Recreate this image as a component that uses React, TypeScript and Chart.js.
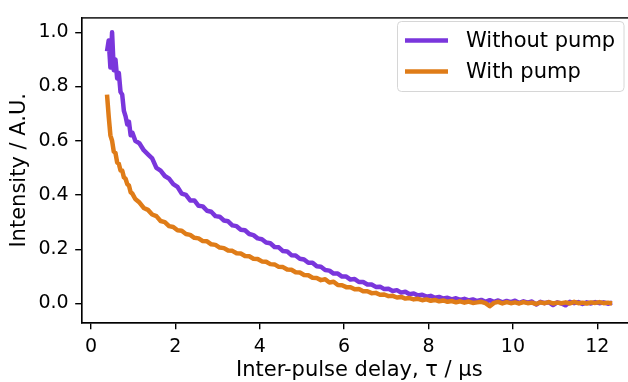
import { useEffect, useRef } from "react";
import { Chart, registerables } from "chart.js";

Chart.register(...registerables);

const CANVAS_W = 660;
const CANVAS_H = 382;
const FONT = "'DejaVu Sans', sans-serif";

const seriesLabels = ["Without pump", "With pump"];
const seriesColors = ["#7a36dc", "#df7c18"];

const xTicks = [0, 2, 4, 6, 8, 10, 12];
const yTicks = [0, 0.2, 0.4, 0.6, 0.8, 1.0];

const delays = [
  0.38, 0.42, 0.46, 0.5, 0.54, 0.58, 0.62, 0.66, 0.7, 0.74, 0.78, 0.82, 0.86, 0.9, 0.94, 0.98,
  1.05, 1.15, 1.25, 1.35, 1.45, 1.55, 1.65, 1.75, 1.85, 1.95,
  2.05, 2.15, 2.25, 2.35, 2.45, 2.55, 2.65, 2.75, 2.85, 2.95,
  3.05, 3.15, 3.25, 3.35, 3.45, 3.55, 3.65, 3.75, 3.85, 3.95,
  4.05, 4.15, 4.25, 4.35, 4.45, 4.55, 4.65, 4.75, 4.85, 4.95,
  5.05, 5.15, 5.25, 5.35, 5.45, 5.55, 5.65, 5.75, 5.85, 5.95,
  6.05, 6.15, 6.25, 6.35, 6.45, 6.55, 6.65, 6.75, 6.85, 6.95,
  7.05, 7.15, 7.25, 7.35, 7.45, 7.55, 7.65, 7.75, 7.85, 7.95,
  8.05, 8.15, 8.25, 8.35, 8.45, 8.55, 8.65, 8.75, 8.85, 8.95,
  9.05, 9.15, 9.25, 9.35, 9.45, 9.55, 9.65, 9.75, 9.85, 9.95,
  10.05, 10.15, 10.25, 10.35, 10.45, 10.55, 10.65, 10.75, 10.85, 10.95,
  11.05, 11.15, 11.25, 11.35, 11.45, 11.55, 11.65, 11.75, 11.85, 11.95,
  12.05, 12.15, 12.25, 12.35,
];

const withoutPump = [
  0.93, 0.97, 0.87, 1.0, 0.86, 0.9, 0.83, 0.85, 0.78, 0.77, 0.71, 0.69, 0.66, 0.67, 0.62, 0.63,
  0.6, 0.59, 0.565, 0.55, 0.535, 0.5, 0.49, 0.47, 0.46, 0.44,
  0.43, 0.405, 0.4, 0.38, 0.38, 0.36, 0.358, 0.342, 0.338, 0.322,
  0.32, 0.306, 0.303, 0.288, 0.285, 0.272, 0.27, 0.256, 0.252, 0.24,
  0.237, 0.225, 0.222, 0.208, 0.207, 0.193, 0.192, 0.178, 0.177, 0.165,
  0.162, 0.15, 0.15, 0.137, 0.135, 0.123, 0.121, 0.11, 0.11, 0.099,
  0.099, 0.088, 0.09, 0.079, 0.079, 0.07, 0.07, 0.061, 0.062, 0.053,
  0.054, 0.046, 0.049, 0.04, 0.043, 0.034, 0.037, 0.029, 0.032, 0.025,
  0.028, 0.021, 0.024, 0.018, 0.021, 0.015, 0.019, 0.013, 0.017, 0.011,
  0.015, 0.009, 0.013, 0.006, 0.012, 0.006, 0.011, 0.004, 0.009, 0.005,
  0.01, 0.002, 0.008, 0.003, 0.007, -0.004, 0.006, 0.001, 0.005, -0.006,
  0.004, 0.0, -0.007, 0.006, 0.001, 0.005, -0.002, 0.004, 0.0, 0.005,
  0.001, 0.004, -0.001, 0.003,
];

const withPump = [
  0.77, 0.69, 0.62, 0.6, 0.56, 0.555, 0.52, 0.515, 0.49, 0.49, 0.465, 0.46, 0.44, 0.435, 0.41, 0.405,
  0.385, 0.372, 0.352, 0.345, 0.328, 0.322, 0.304, 0.3, 0.285, 0.282,
  0.27, 0.268, 0.256, 0.253, 0.242, 0.24, 0.23, 0.229, 0.218, 0.216,
  0.206, 0.204, 0.195, 0.194, 0.185, 0.184, 0.175, 0.174, 0.165, 0.164,
  0.155, 0.154, 0.145, 0.144, 0.135, 0.134, 0.125, 0.124, 0.115, 0.114,
  0.105, 0.104, 0.095, 0.094, 0.086, 0.089, 0.077, 0.08, 0.068, 0.067,
  0.06, 0.06, 0.052, 0.053, 0.045, 0.045, 0.038, 0.039, 0.032, 0.033,
  0.027, 0.028, 0.022, 0.024, 0.018, 0.02, 0.015, 0.017, 0.012, 0.015,
  0.01, 0.013, 0.008, 0.011, 0.006, 0.009, 0.004, 0.008, 0.003, 0.007,
  0.002, 0.004, 0.006, 0.001, -0.01, 0.002, 0.006, 0.0, 0.005, 0.001,
  0.004, 0.0, 0.005, 0.001, 0.003, -0.002, 0.004, 0.001, 0.005, 0.0,
  0.003, 0.001, 0.004, 0.0, 0.006, 0.001, 0.003, 0.0, 0.004, 0.002,
  0.005, 0.001, 0.003, 0.0,
];

export default function App() {
  const canvasRef = useRef<HTMLCanvasElement | null>(null);

  useEffect(() => {
    const canvas = canvasRef.current;
    if (!canvas) return;

    const framePlugin = {
      id: "mplFrame",
      afterDraw(chart: any) {
        const { ctx, chartArea } = chart;
        ctx.save();
        ctx.strokeStyle = "#000";
        ctx.lineWidth = 1.4;
        ctx.strokeRect(chartArea.left, chartArea.top, chartArea.right - chartArea.left, chartArea.bottom - chartArea.top);
        ctx.restore();
      },
    };

    const legendPlugin = {
      id: "mplLegend",
      afterDraw(chart: any) {
        const { ctx } = chart;
        const x0 = 397.5, y0 = 21.5, w = 226.5, h = 70, r = 4;
        ctx.save();
        ctx.beginPath();
        ctx.moveTo(x0 + r, y0);
        ctx.lineTo(x0 + w - r, y0);
        ctx.arcTo(x0 + w, y0, x0 + w, y0 + r, r);
        ctx.lineTo(x0 + w, y0 + h - r);
        ctx.arcTo(x0 + w, y0 + h, x0 + w - r, y0 + h, r);
        ctx.lineTo(x0 + r, y0 + h);
        ctx.arcTo(x0, y0 + h, x0, y0 + h - r, r);
        ctx.lineTo(x0, y0 + r);
        ctx.arcTo(x0, y0, x0 + r, y0, r);
        ctx.closePath();
        ctx.fillStyle = "rgba(255,255,255,0.8)";
        ctx.fill();
        ctx.strokeStyle = "#d6d6d6";
        ctx.lineWidth = 1;
        ctx.stroke();
        const rows = [40.5, 71.5];
        seriesLabels.forEach((label, i) => {
          ctx.beginPath();
          ctx.moveTo(405, rows[i]);
          ctx.lineTo(448, rows[i]);
          ctx.strokeStyle = seriesColors[i];
          ctx.lineWidth = 4.5;
          ctx.stroke();
          ctx.fillStyle = "#000";
          ctx.font = `21px ${FONT}`;
          ctx.textBaseline = "middle";
          ctx.textAlign = "left";
          ctx.fillText(label, 466, rows[i] + 1);
        });
        ctx.restore();
      },
    };

    const axisCommon = {
      type: "linear" as const,
      grid: {
        display: true,
        drawOnChartArea: false,
        drawTicks: true,
        tickLength: 6.5,
        color: "#000",
        lineWidth: 1.4,
      },
      border: { display: true, color: "#000", width: 1.4 },
    };

    const chart = new Chart(canvas, {
      type: "line",
      data: {
        datasets: [
          {
            label: seriesLabels[1],
            data: delays.map((x, i) => ({ x, y: withPump[i] })),
            borderColor: seriesColors[1],
            backgroundColor: seriesColors[1],
            borderWidth: 4.5,
            borderJoinStyle: "round",
            pointRadius: 0,
            tension: 0,
            order: 0,
          },
          {
            label: seriesLabels[0],
            data: delays.map((x, i) => ({ x, y: withoutPump[i] })),
            borderColor: seriesColors[0],
            backgroundColor: seriesColors[0],
            borderWidth: 4.5,
            borderJoinStyle: "round",
            pointRadius: 0,
            tension: 0,
            order: 1,
          },
        ],
      },
      options: {
        animation: false,
        responsive: false,
        maintainAspectRatio: false,
        devicePixelRatio: 1,
        layout: { padding: { top: 13, right: CANVAS_W - 637, left: 0, bottom: 0 } },
        plugins: { legend: { display: false }, tooltip: { enabled: false } },
        scales: {
          x: {
            ...axisCommon,
            min: -0.22,
            max: 12.94,
            afterBuildTicks: (s: any) => {
              s.ticks = xTicks.map((v) => ({ value: v }));
            },
            afterFit: (s: any) => {
              s.height = CANVAS_H - 322.7;
            },
            ticks: {
              color: "#000",
              font: { family: FONT, size: 19 },
              padding: 6.5,
              maxRotation: 0,
              autoSkip: false,
              callback: (v: any) => String(v),
            },
            title: {
              display: true,
              text: "Inter-pulse delay, τ / μs",
              color: "#000",
              font: { family: FONT, size: 21 },
              padding: { top: 0, bottom: -1 },
            },
          },
          y: {
            ...axisCommon,
            min: -0.071,
            max: 1.053,
            afterBuildTicks: (s: any) => {
              s.ticks = yTicks.map((v) => ({ value: v }));
            },
            afterFit: (s: any) => {
              s.width = 81.7;
            },
            ticks: {
              color: "#000",
              font: { family: FONT, size: 19 },
              padding: 6.5,
              autoSkip: false,
              callback: (v: any) => Number(v).toFixed(1),
            },
            title: {
              display: true,
              text: "Intensity / A.U.",
              color: "#000",
              font: { family: FONT, size: 21 },
              padding: { top: 7.3, bottom: 0 },
            },
          },
        },
      },
      plugins: [framePlugin, legendPlugin],
    });

    return () => chart.destroy();
  }, []);

  return (
    <div
      style={{
        position: "fixed",
        left: 0,
        top: 0,
        width: 628,
        height: 382,
        overflow: "hidden",
        background: "#fff",
      }}
    >
      <canvas
        ref={canvasRef}
        width={CANVAS_W}
        height={CANVAS_H}
        style={{ display: "block", width: CANVAS_W, height: CANVAS_H }}
      />
    </div>
  );
}
